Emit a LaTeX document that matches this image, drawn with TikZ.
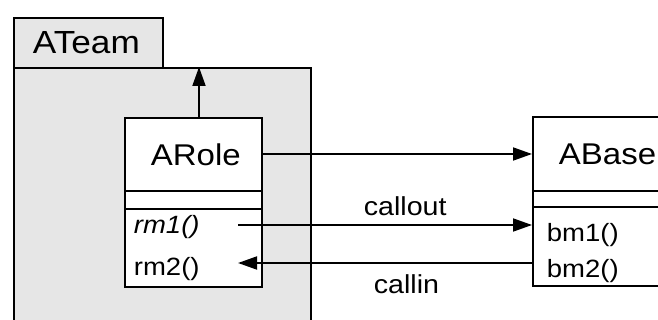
\documentclass[tikz,border=0pt]{standalone}
\usepackage{fontspec}
\setmainfont{Liberation Sans}[FakeStretch=1.1]
\usetikzlibrary{arrows.meta}
\definecolor{pkggray}{HTML}{E6E6E6}
\newcommand\pkgfont{\fontsize{32}{38}\selectfont}
\newcommand\clsfont{\fontsize{30}{36}\selectfont}
\newcommand\memfont{\fontsize{25}{30}\selectfont}
\newcommand\lblfont{\fontsize{26}{31}\selectfont}
\begin{document}
\begin{tikzpicture}[x=1pt,y=-1pt,line width=1.8pt,
  pkg/.style={draw,fill=pkggray,inner sep=0pt,anchor=north west},
  cls/.style={draw,fill=white,inner sep=0pt,anchor=north west},
  txt/.style={inner sep=0pt,anchor=base west},
  arr/.style={-{Triangle[length=19pt,width=13pt]}}]
\useasboundingbox (0,0) rectangle (658,320);
% package
\node[pkg,minimum width=149pt,minimum height=50pt] (teamtab) at (13,17) {};
\node[pkg,minimum width=297pt,minimum height=290pt] (team) at (13,67) {};
\node[txt] (teamname) at (32,54) {\pkgfont ATeam};
% ARole
\node[cls,minimum width=137pt,minimum height=169pt] (arole) at (124,117) {};
\draw (arole.west |- 0,191) -- (arole.east |- 0,191);
\draw (arole.west |- 0,209) -- (arole.east |- 0,209);
\node[txt] (arolename) at (150,166) {\clsfont ARole};
\node[txt] (rm1) at (133,234) {\memfont\itshape rm1()};
\node[txt] (rm2) at (133,275) {\memfont rm2()};
% ABase
\node[cls,minimum width=200pt,minimum height=169pt] (abase) at (532,116) {};
\draw (abase.west |- 0,191) -- (abase.east |- 0,191);
\draw (abase.west |- 0,207) -- (abase.east |- 0,207);
\node[txt] (abasename) at (558,165) {\clsfont ABase};
\node[txt] (bm1) at (546,241) {\memfont bm1()};
\node[txt] (bm2) at (546,277) {\memfont bm2()};
% connectors
\coordinate (up) at (199,117);
\draw[arr] (up) -- (up |- team.north);
\coordinate (rolemid) at (261,154);
\draw[arr] (rolemid) -- (rolemid -| abase.west);
\coordinate (outstart) at (238,225);
\draw[arr] (outstart) -- (outstart -| abase.west);
\coordinate (inend) at (238,263);
\draw[arr] (inend -| abase.west) -- (inend);
\node[txt] (callout) at (363,216) {\lblfont callout};
\node[txt] (callin) at (373,293) {\lblfont callin};
\end{tikzpicture}
\end{document}
